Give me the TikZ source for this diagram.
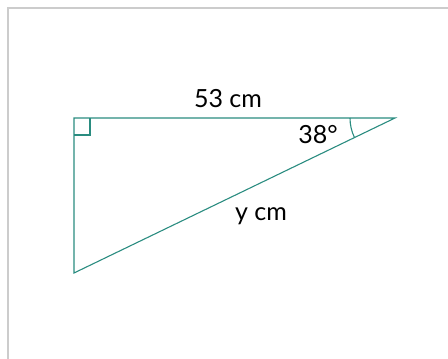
\documentclass[tikz,border=0pt]{standalone}
\usepackage{fontspec}
\setmainfont{Lato}
\definecolor{teal1}{HTML}{2A8C80}
\definecolor{frame}{HTML}{CCCCCC}
\begin{document}
\begin{tikzpicture}[x=1pt,y=-1pt,
  side/.style={draw=teal1,line width=1.1pt},
  lbl/.style={font=\fontsize{25}{30}\selectfont,text=black,inner sep=0pt}]
\useasboundingbox (0,0) rectangle (448,359);
\draw[frame,line width=1.6pt] (7.8,360) -- (7.8,7.8) -- (449,7.8);
\coordinate (A) at (74,118);
\coordinate (B) at (395,118);
\coordinate (C) at (74,273);
\draw[side] (A) -- (B) -- (C) -- cycle;
\draw[side] (74,135) -- (90,135) -- (90,118);
\draw[side] (350,118) arc[start angle=180,end angle=154.2,radius=45];
\node[lbl] (l53) at (228,99) {53 cm};
\node[lbl] (l38) at (318,135) {38°};
\node[lbl] (ly) at (261,216) {y cm};
\end{tikzpicture}
\end{document}
